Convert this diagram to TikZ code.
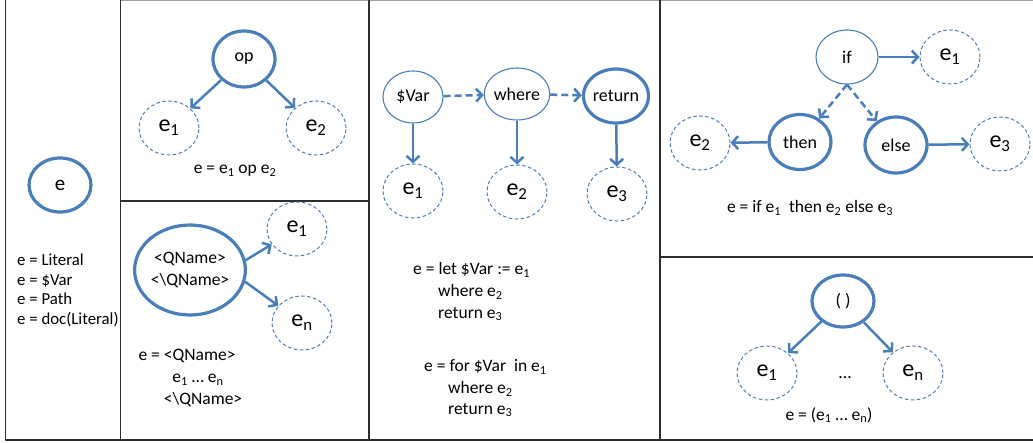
\documentclass[tikz,border=0pt]{standalone}
\usepackage{fontspec}
\setmainfont{Carlito}
\usetikzlibrary{shapes.geometric, arrows.meta}
\definecolor{ink}{HTML}{000000}
\definecolor{frame}{HTML}{2E2E2E}
\definecolor{rim}{HTML}{A0A0A0}
\definecolor{figblue}{HTML}{4A7EBB}
\newcommand{\notefont}{\fontsize{17.5}{19.4}\selectfont}
\newcommand{\opfont}{\fontsize{18}{21}\selectfont}
\newcommand{\holefont}{\fontsize{24}{26}\selectfont}
\tikzset{
  every picture/.style = {line join=round},
  strong/.style = {ellipse, draw=figblue, line width=3.2pt, inner sep=0pt,
                   minimum width=62pt, minimum height=54pt, font=\opfont, text=ink},
  light/.style  = {strong, line width=1.1pt},
  hole/.style   = {ellipse, draw=figblue, line width=1pt, dash pattern=on 3.5pt off 2.5pt,
                   inner sep=0pt, minimum width=60pt, minimum height=54pt,
                   font=\holefont, text=ink},
  link/.style   = {draw=figblue, line width=2.5pt,
                   -{Straight Barb[length=6pt, width=13pt]}},
  hop/.style    = {link, dash pattern=on 7pt off 4pt},
  note/.style   = {font=\notefont, text=ink, inner sep=0pt},
  wall/.style   = {draw=frame, line width=1.3pt},
}

\begin{document}
\begin{tikzpicture}[x=1pt, y=-1pt]
  \useasboundingbox (0,0) rectangle (1033,443);

  % ---------- frames ----------------------------------------------------------
  \draw[rim, line width=1pt] (120,0.5) -- (1033,0.5);
  \draw[wall] (5.5,0) -- (5.5,440) -- (1033,440);
  \draw[wall] (120.5,0) -- (120.5,440);
  \draw[wall] (369,0) -- (369,440);
  \draw[wall] (660,0) -- (660,440);
  \draw[wall] (120.5,201) -- (369,201);
  \draw[wall] (660,257) -- (1033,257);

  % ---------- left: the leaf expression ---------------------------------------
  \node[strong, font=\fontsize{21}{23}\selectfont] (leaf) at (60,185) {e};
  \node[note, font=\fontsize{16.8}{19.4}\selectfont, anchor=north west, align=left]
    (leafdefs) at (17,254)
    {e = Literal\\ e = \$Var\\ e = Path\\ e = doc(Literal)};

  % ---------- binary operator --------------------------------------------------
  \node[strong, minimum height=56pt] (op)  at (244,59)  {op};
  \node[hole] (opa) at (169,128) {e\textsubscript{1}};
  \node[hole] (opb) at (316,128) {e\textsubscript{2}};
  \draw[link] (op) -- (opa);
  \draw[link] (op) -- (opb);
  \node[note] (oplabel) at (235,171) {e = e\textsubscript{1} op e\textsubscript{2}};

  % ---------- element constructor ----------------------------------------------
  \node[strong, minimum width=94pt, minimum height=90pt, align=center,
        font=\fontsize{17.5}{22}\selectfont] (qn) at (190,270)
    {\textless QName\textgreater\\ \textless\textbackslash QName\textgreater};
  \node[hole] (qa) at (297,229) {e\textsubscript{1}};
  \node[hole] (qz) at (302,323) {e\textsubscript{n}};
  \draw[link] (qn.10)  -- (qa);
  \draw[link] (qn.-12) -- (qz);
  \node[note] (qline1) at (187,356) {e = \textless QName\textgreater};
  \node[note] (qline2) at (198,380) {e\textsubscript{1} \dots\ e\textsubscript{n}};
  \node[note] (qline3) at (203,400) {\textless\textbackslash QName\textgreater};

  % ---------- let / for chain --------------------------------------------------
  \node[light, minimum width=60pt, minimum height=52pt] (var)   at (413,97) {\$Var};
  \node[light, minimum width=60pt, minimum height=52pt] (where) at (517,94) {where};
  \node[strong] (ret) at (616,96) {return};
  \node[hole] (va) at (413,191) {e\textsubscript{1}};
  \node[hole] (wa) at (517,192) {e\textsubscript{2}};
  \node[hole] (ra) at (617,194) {e\textsubscript{3}};
  \draw[hop]  (var)   -- (where);
  \draw[hop]  (where) -- (ret);
  \draw[link] (var)   -- (va);
  \draw[link] (where) -- (wa);
  \draw[link] (ret)   -- (ra);

  \node[note, anchor=west] (let1) at (413,270) {e = let \$Var := e\textsubscript{1}};
  \node[note, anchor=west] (let2) at (438,292) {where e\textsubscript{2}};
  \node[note, anchor=west] (let3) at (438,314) {return e\textsubscript{3}};
  \node[note, anchor=west] (for1) at (424,367) {e = for \$Var\ \ in e\textsubscript{1}};
  \node[note, anchor=west] (for2) at (448,389) {where e\textsubscript{2}};
  \node[note, anchor=west] (for3) at (448,410) {return e\textsubscript{3}};

  % ---------- conditional ------------------------------------------------------
  \node[light] (if)   at (847,57)  {if};
  \node[strong, minimum height=55pt] (then) at (800,142) {then};
  \node[strong, minimum height=56pt] (else) at (896,145) {else};
  \node[hole] (ia) at (950,57)  {e\textsubscript{1}};
  \node[hole] (ta) at (700,143) {e\textsubscript{2}};
  \node[hole] (ea) at (1000,144) {e\textsubscript{3}};
  \draw[link] (if)   -- (ia);
  \draw[link] (then) -- (ta);
  \draw[link] (else) -- (ea);
  \draw[hop] (if.south) -- (then);
  \draw[hop] (if.south) -- (else);
  \node[note] (iflabel) at (810,208)
    {e = if e\textsubscript{1}\ \ then e\textsubscript{2} else e\textsubscript{3}};

  % ---------- sequence ---------------------------------------------------------
  \node[strong, minimum height=52pt] (seq) at (843,301) {( )};
  \node[hole] (sa) at (767,373) {e\textsubscript{1}};
  \node[hole] (sz) at (913,373) {e\textsubscript{n}};
  \draw[link] (seq) -- (sa);
  \draw[link] (seq) -- (sz);
  \node[note, font=\opfont] (dots) at (845,378) {\dots};
  \node[note] (seqlabel) at (829,415) {e = (e\textsubscript{1} \dots\ e\textsubscript{n})};
\end{tikzpicture}
\end{document}
